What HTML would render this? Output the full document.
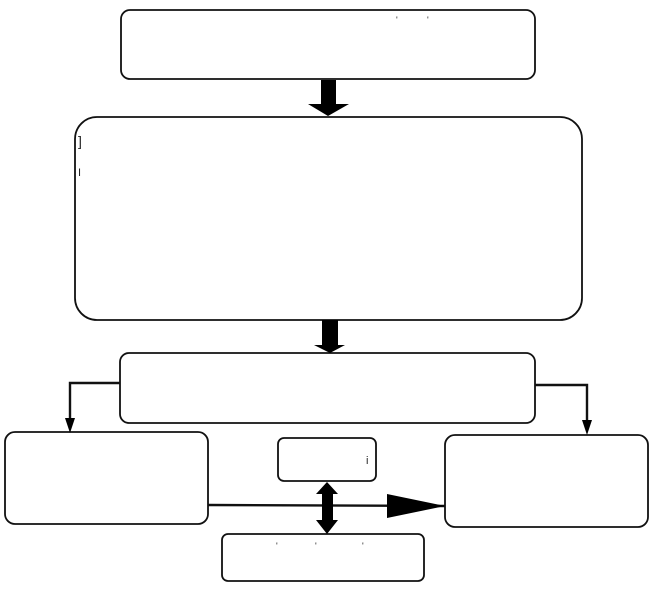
<!DOCTYPE html>
<html><head><style>html,body{margin:0;padding:0;background:#fff;width:650px;height:594px;overflow:hidden}</style></head>
<body>
<svg width="650" height="594" viewBox="0 0 650 594" xmlns="http://www.w3.org/2000/svg">
<g fill="none" stroke="#111" stroke-width="1.8">
<rect x="121" y="10" width="414" height="69" rx="9"/>
<rect x="75" y="117" width="507" height="203" rx="22"/>
<rect x="120" y="353" width="415" height="70" rx="9"/>
<rect x="5" y="432" width="203" height="92" rx="10"/>
<rect x="278" y="438" width="98" height="43" rx="6"/>
<rect x="445" y="435" width="203" height="92" rx="10"/>
<rect x="222" y="534" width="202" height="47" rx="6"/>
</g>
<g fill="none" stroke="#111" stroke-width="2.4">
<polyline points="120,383 70,383 70,420"/>
<polyline points="535,385 587,385 587,422"/>
<line x1="208" y1="505" x2="445" y2="506"/>
</g>
<g fill="#000">
<rect x="321" y="80" width="15" height="25"/>
<polygon points="308,104 349,104 328,116"/>
<rect x="322" y="320" width="16" height="26"/>
<polygon points="314,345 345,345 330,353"/>
<polygon points="65,418 75,418 70,433"/>
<polygon points="582,420 592,420 587,435"/>
<polygon points="387,494 445,506 387,518"/>
<rect x="322" y="492" width="11" height="30"/>
<polygon points="316,494 338,494 327,482"/>
<polygon points="316,520 338,520 327,534"/>
</g>
<g font-family="Liberation Sans, sans-serif" font-size="9" fill="#222">
<text x="396" y="23">'</text><text x="427" y="23">'</text>
<text x="78" y="146" font-size="14">]</text>
<text x="78" y="176" font-size="11">I</text>
<text x="366" y="464" font-size="11">i</text>
<text x="276" y="549">'</text><text x="315" y="549">'</text><text x="362" y="549">'</text>
</g>
</svg>
</body></html>
